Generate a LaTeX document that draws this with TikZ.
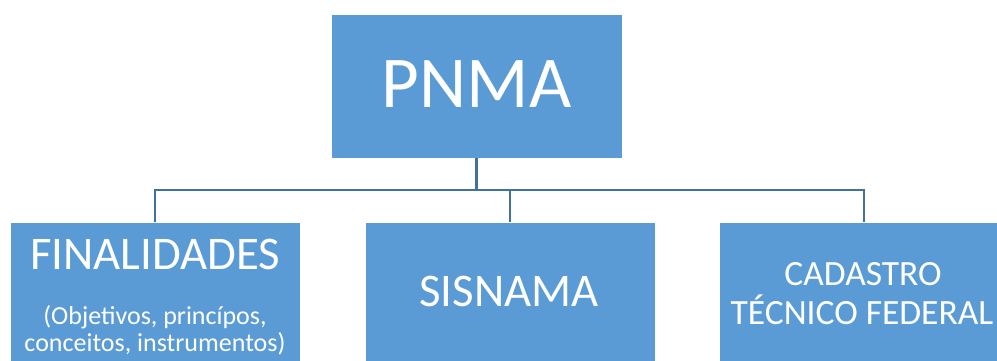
\documentclass[tikz,border=0pt]{standalone}
\usepackage{fontspec}
\setmainfont{Carlito}
\definecolor{boxblue}{HTML}{5B9BD5}
\definecolor{linkblue}{HTML}{41719C}
\tikzset{
  orgbox/.style={rectangle, fill=boxblue, draw=white, line width=0.8pt,
    inner sep=0pt, minimum width=#1},
  orgbox/.default=290pt,
  boxtext/.style={text=white, anchor=base, inner sep=0pt, align=center},
  link/.style={draw=linkblue, line width=2.8pt}
}
\begin{document}
\begin{tikzpicture}[x=1pt, y=-1pt]
  \useasboundingbox (0,0) rectangle (997,361);
  \clip (0,0) rectangle (997,361);
  % boxes
  \node[orgbox=291pt, minimum height=144pt] (pnma) at (476.5,86) {};
  \node[orgbox, minimum height=150pt] (fin) at (155,297) {};
  \node[orgbox, minimum height=150pt] (sis) at (510,297) {};
  \node[orgbox, minimum height=150pt] (cad) at (864,297) {};
  % labels
  \node[boxtext, font=\fontsize{73}{80}\selectfont] (pnmaT) at (476.5,107) {PNMA};
  \node[boxtext, font=\fontsize{46.8}{50}\selectfont] (finT) at (155,269.3) {FINALIDADES};
  \node[boxtext, font=\fontsize{26}{28}\selectfont] (finA) at (155,324) {(Objetivos, princípos,};
  \node[boxtext, font=\fontsize{26}{28}\selectfont] (finB) at (155,351.7) {conceitos, instrumentos)};
  \node[boxtext, font=\fontsize{46.8}{50}\selectfont] (sisT) at (509,306.7) {SISNAMA};
  \node[boxtext, font=\fontsize{35.5}{38}\selectfont] (cadA) at (863,285) {CADASTRO};
  \node[boxtext, font=\fontsize{35.5}{38}\selectfont] (cadB) at (862,324) {TÉCNICO FEDERAL};
  % connectors
  \coordinate (bus) at (476.5,190);
  \draw[link] (pnma.south) -- (bus);
  \draw[link] (bus) -| (fin.north);
  \draw[link] (bus) -| (sis.north);
  \draw[link] (bus) -| (cad.north);
\end{tikzpicture}
\end{document}
